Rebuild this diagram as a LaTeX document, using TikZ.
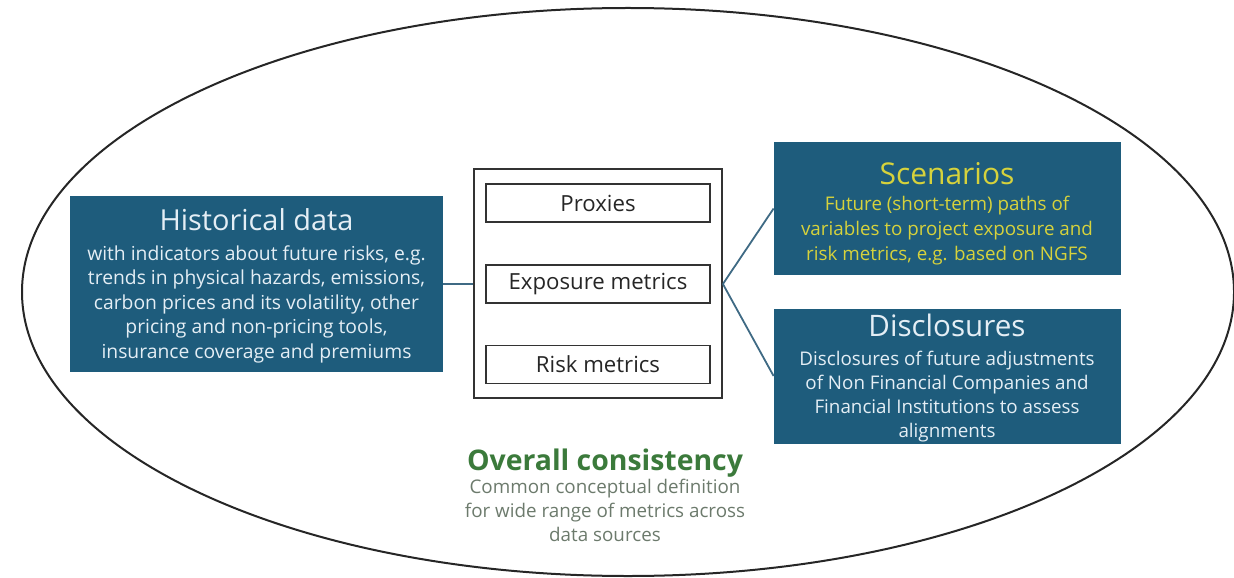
\documentclass[tikz,border=0pt]{standalone}
\usepackage{fontspec}
\setmainfont{Open Sans}
\definecolor{panel}{HTML}{1E5C7C}
\definecolor{paneltext}{HTML}{E4EEF5}
\definecolor{scentext}{HTML}{D6D23C}
\definecolor{linkcol}{HTML}{3F6A84}
\definecolor{okgreen}{HTML}{3B7A3B}
\definecolor{subgray}{HTML}{6C7A6C}
\tikzset{
  x=0.5pt, y=-0.5pt,
  panelbox/.style={fill=panel, draw=none, inner sep=0pt},
  paneltxt/.style={text=paneltext, align=center, inner sep=0pt},
  metricbox/.style={draw=black!80, line width=0.8pt, fill=white,
    minimum width=112pt, minimum height=19pt, inner sep=0pt,
    font=\fontsize{11.1}{12}\selectfont, text=black!85},
  link/.style={draw=linkcol, line width=0.9pt},
}
\begin{document}
\begin{tikzpicture}
\useasboundingbox (0,0) rectangle (1234,577);
% outer boundary
\draw[black!85, line width=1pt] (628,292) ellipse [x radius=606, y radius=284];

% left panel
\node[panelbox, minimum width=186.5pt, minimum height=88pt] (hist) at (256.5,284) {};
\node[paneltxt, font=\fontsize{9.65}{12.25}\selectfont] (hist-txt) at (256.5,286)
  {{\fontsize{14.45}{17}\selectfont Historical data}\\[2.5pt]
   with indicators about future risks, e.g.\\
   trends in physical hazards, emissions,\\
   carbon prices and its volatility, other\\
   pricing and non-pricing tools,\\
   insurance coverage and premiums};

% central container with the three metric types
\node[draw=black!80, line width=0.9pt, minimum width=124pt, minimum height=114.5pt] (cont) at (598,283.5) {};
\node[metricbox] (prox) at (598,203) {Proxies};
\node[metricbox] (expo) at (598,284) {Exposure metrics};
\node[metricbox] (risk) at (598,364.5) {Risk metrics};

% right panels
\node[panelbox, minimum width=173.5pt, minimum height=66.5pt] (scen) at (947.5,208.5) {};
\node[paneltxt, text=scentext, font=\fontsize{9.4}{12.5}\selectfont] (scen-txt) at (947,214)
  {{\fontsize{15}{17}\selectfont Scenarios}\\[0.5pt]
   Future (short-term) paths of\\
   variables to project exposure and\\
   risk metrics, e.g. based on NGFS};
\node[panelbox, minimum width=173.5pt, minimum height=67.5pt] (disc) at (947.5,376) {};
\node[paneltxt, font=\fontsize{9.4}{12}\selectfont] (disc-txt) at (947,378.5)
  {{\fontsize{14.8}{16}\selectfont Disclosures}\\[2.5pt]
   Disclosures of future adjustments\\
   of Non Financial Companies and\\
   Financial Institutions to assess\\
   alignments};

% bottom caption
\node[align=center, text=subgray, font=\fontsize{9.4}{11.8}\selectfont, inner sep=0pt] (cons) at (605,495)
  {{\fontsize{14.2}{16}\selectfont\bfseries\color{okgreen} Overall consistency}\\[0pt]
   Common conceptual definition\\
   for wide range of metrics across\\
   data sources};

% connectors
\coordinate (hub) at (cont.east |- expo.east);
\draw[link] (hist.east) -- (hist.east -| cont.west);
\draw[link] (hub) -- (scen.west);
\draw[link] (hub) -- (disc.west);
\end{tikzpicture}
\end{document}
